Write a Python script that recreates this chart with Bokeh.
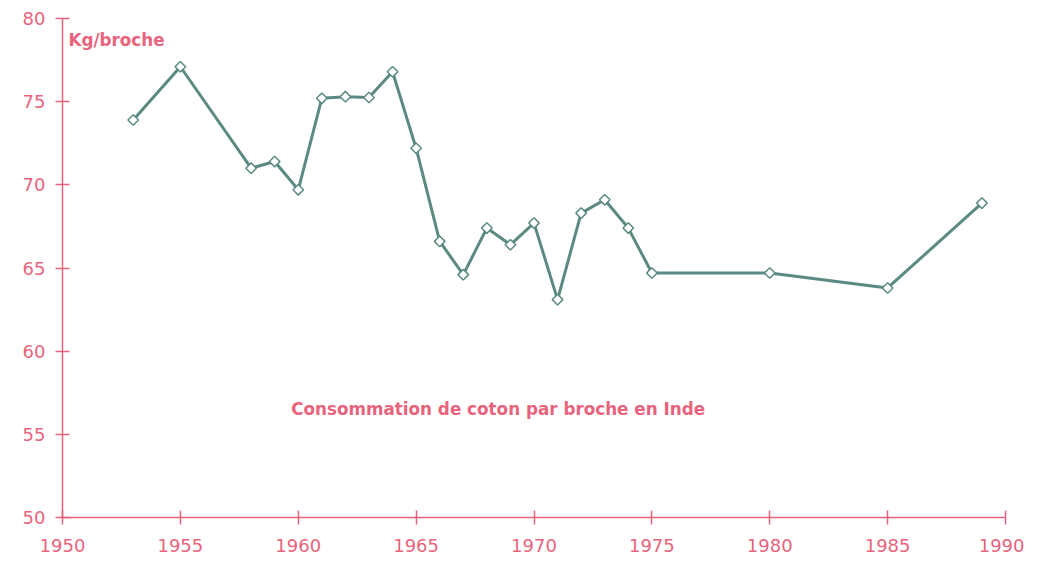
import math
from bokeh.plotting import figure
from bokeh.models import Range1d, Label, FixedTicker, ColumnDataSource
from bokeh.embed import file_html
from bokeh.resources import INLINE

years = [1953, 1955, 1958, 1959, 1960, 1961, 1962, 1963, 1964, 1965, 1966, 1967,
         1968, 1969, 1970, 1971, 1972, 1973, 1974, 1975, 1980, 1985, 1989]
kg_per_spindle = [73.9, 77.1, 71.0, 71.4, 69.7, 75.2, 75.3, 75.25, 76.8, 72.2, 66.6, 64.6,
                  67.4, 66.4, 67.7, 63.1, 68.3, 69.1, 67.4, 64.7, 64.7, 63.8, 68.9]
x_ticks = [1950, 1955, 1960, 1965, 1970, 1975, 1980, 1985, 1990]
y_ticks = [50, 55, 60, 65, 70, 75, 80]

AX = "#e8647c"
LINE = "#5b8a82"
FONT = "DejaVu Sans"

p = figure(width=1024, height=560, output_backend="svg", toolbar_location=None,
           x_range=Range1d(1950, 1990), y_range=Range1d(50, 80),
           min_border_left=62, min_border_right=19, min_border_top=18, min_border_bottom=43)
p.outline_line_color = None
p.xgrid.visible = False
p.ygrid.visible = False

for ax in (p.xaxis[0], p.yaxis[0]):
    ax.axis_line_color = AX
    ax.axis_line_width = 1.5
    ax.major_tick_line_color = AX
    ax.major_tick_line_width = 1.5
    ax.major_tick_in = 7
    ax.major_tick_out = 7
    ax.minor_tick_line_color = None
    ax.major_label_text_color = AX
    ax.major_label_text_font = FONT
    ax.major_label_text_font_size = "18px"
p.xaxis.ticker = FixedTicker(ticks=x_ticks)
p.yaxis.ticker = FixedTicker(ticks=y_ticks)
p.xaxis.major_label_standoff = 14
p.yaxis.major_label_standoff = 10

src = ColumnDataSource(dict(x=years, y=kg_per_spindle))
p.line("x", "y", source=src, line_color=LINE, line_width=3)
p.scatter("x", "y", source=src, marker="square", angle=math.pi / 4, size=7.5,
          fill_color="white", line_color=LINE, line_width=1.5)

p.add_layout(Label(x=1950.25, y=78.68, text="Kg/broche", text_color=AX, text_font=FONT,
                   text_font_size="16.8px", text_font_style="bold", text_baseline="middle"))
p.add_layout(Label(x=1959.7, y=56.5, text="Consommation de coton par broche en Inde",
                   text_color=AX, text_font=FONT, text_font_size="16.8px",
                   text_font_style="bold", text_baseline="middle"))

open("out.html", "w").write(file_html(p, INLINE))
